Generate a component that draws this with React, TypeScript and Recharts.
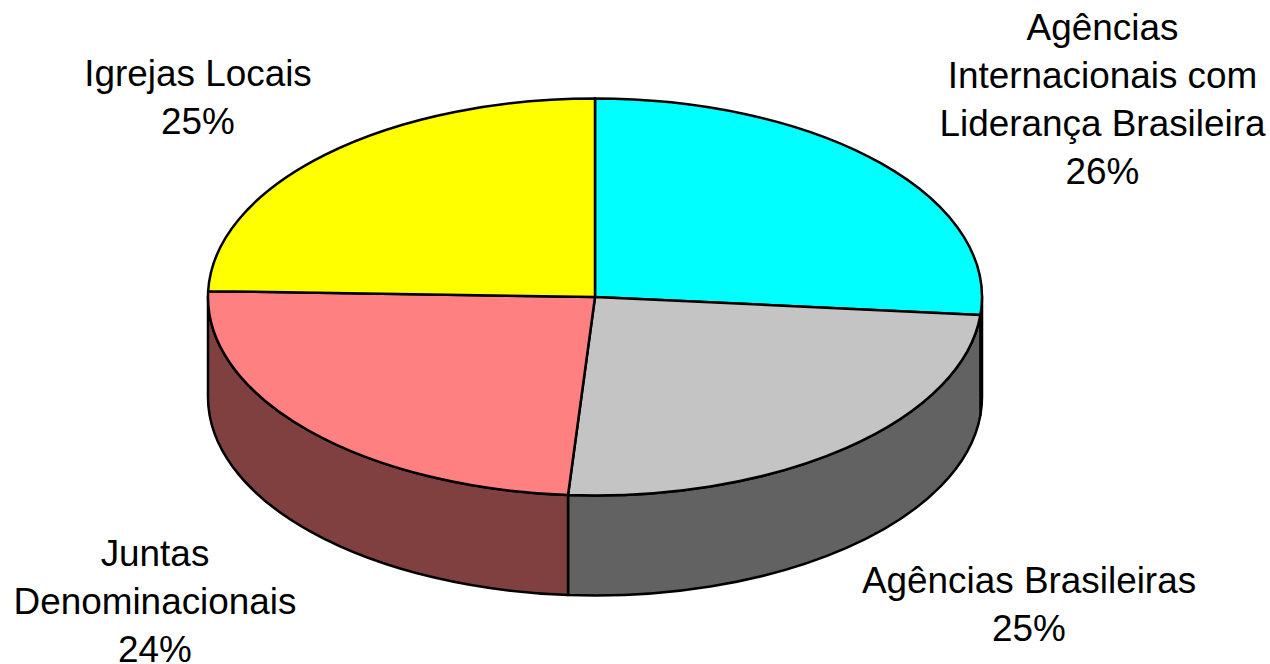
import React from "react";
import { PieChart, Pie, Cell } from "recharts";

const categories = ["Agências Internacionais com Liderança Brasileira", "Agências Brasileiras", "Juntas Denominacionais", "Igrejas Locais"];
const values = [26.44, 24.67, 24.36, 24.53];
const percentLabels = ["26%", "25%", "24%", "25%"];
const labelLines = [
  ["Agências", "Internacionais com", "Liderança Brasileira", "26%"],
  ["Agências Brasileiras", "25%"],
  ["Juntas", "Denominacionais", "24%"],
  ["Igrejas Locais", "25%"],
];
const topColors = ["#00ffff", "#c4c4c4", "#ff8080", "#ffff00"];
const wallColors = ["#008080", "#626262", "#804040", "#808000"];
const labelAnchors = [
  { x: 1102.5, y: 40 },
  { x: 1029, y: 593 },
  { x: 155, y: 566 },
  { x: 198, y: 86 },
];

const data = categories.map((name, i) => ({ name, value: values[i], pct: percentLabels[i] }));

const RATIO = 198.5 / 387;
const DEPTH = 100;
const rad = (d: number) => (d * Math.PI) / 180;

function TopSector(props: any) {
  const { cx, cy, outerRadius: r, startAngle, endAngle, fill } = props;
  const ry = r * RATIO;
  const x1 = cx + r * Math.cos(rad(startAngle));
  const y1 = cy - ry * Math.sin(rad(startAngle));
  const x2 = cx + r * Math.cos(rad(endAngle));
  const y2 = cy - ry * Math.sin(rad(endAngle));
  const large = Math.abs(endAngle - startAngle) > 180 ? 1 : 0;
  const d = `M${cx},${cy} L${x1},${y1} A${r},${ry} 0 ${large} 1 ${x2},${y2} Z`;
  return <path d={d} fill={fill} stroke="#000" strokeWidth={2.5} strokeLinejoin="round" />;
}

function WallSector(props: any) {
  const { cx, cy, outerRadius: r, startAngle, endAngle, fill } = props;
  const ry = r * RATIO;
  const hi = Math.min(startAngle, 0);
  const lo = Math.max(endAngle, -180);
  if (hi <= lo) return <g />;
  const x1 = cx + r * Math.cos(rad(hi));
  const y1 = cy - ry * Math.sin(rad(hi));
  const x2 = cx + r * Math.cos(rad(lo));
  const y2 = cy - ry * Math.sin(rad(lo));
  const d = `M${x1},${y1} A${r},${ry} 0 0 1 ${x2},${y2} L${x2},${y2 + DEPTH} A${r},${ry} 0 0 0 ${x1},${y1 + DEPTH} Z`;
  return <path d={d} fill={fill} stroke="#000" strokeWidth={2.5} strokeLinejoin="round" />;
}

function SliceLabel(props: any) {
  const { index } = props;
  const a = labelAnchors[index];
  return (
    <text textAnchor="middle" fontFamily="'Liberation Sans', Arial, sans-serif" fontSize={36.9} fill="#000">
      {labelLines[index].map((line, i) => (
        <tspan key={i} x={a.x} y={a.y + i * 48}>
          {line}
        </tspan>
      ))}
    </text>
  );
}

export default function App() {
  return (
    <div style={{ position: "absolute", left: 0, top: 0, width: 1270, height: 664, background: "#fff" }}>
      <PieChart width={1270} height={664} margin={{ top: 0, right: 0, bottom: 0, left: 0 }}>
        <Pie
          data={data}
          dataKey="value"
          nameKey="name"
          cx={595}
          cy={297}
          innerRadius={0}
          outerRadius={387}
          startAngle={90}
          endAngle={-270}
          isAnimationActive={false}
          shape={WallSector}
          label={false}
          labelLine={false}
        >
          {data.map((_, i) => (
            <Cell key={i} fill={wallColors[i]} />
          ))}
        </Pie>
        <Pie
          data={data}
          dataKey="value"
          nameKey="name"
          cx={595}
          cy={297}
          innerRadius={0}
          outerRadius={387}
          startAngle={90}
          endAngle={-270}
          isAnimationActive={false}
          shape={TopSector}
          label={SliceLabel}
          labelLine={false}
        >
          {data.map((_, i) => (
            <Cell key={i} fill={topColors[i]} />
          ))}
        </Pie>
      </PieChart>
    </div>
  );
}
